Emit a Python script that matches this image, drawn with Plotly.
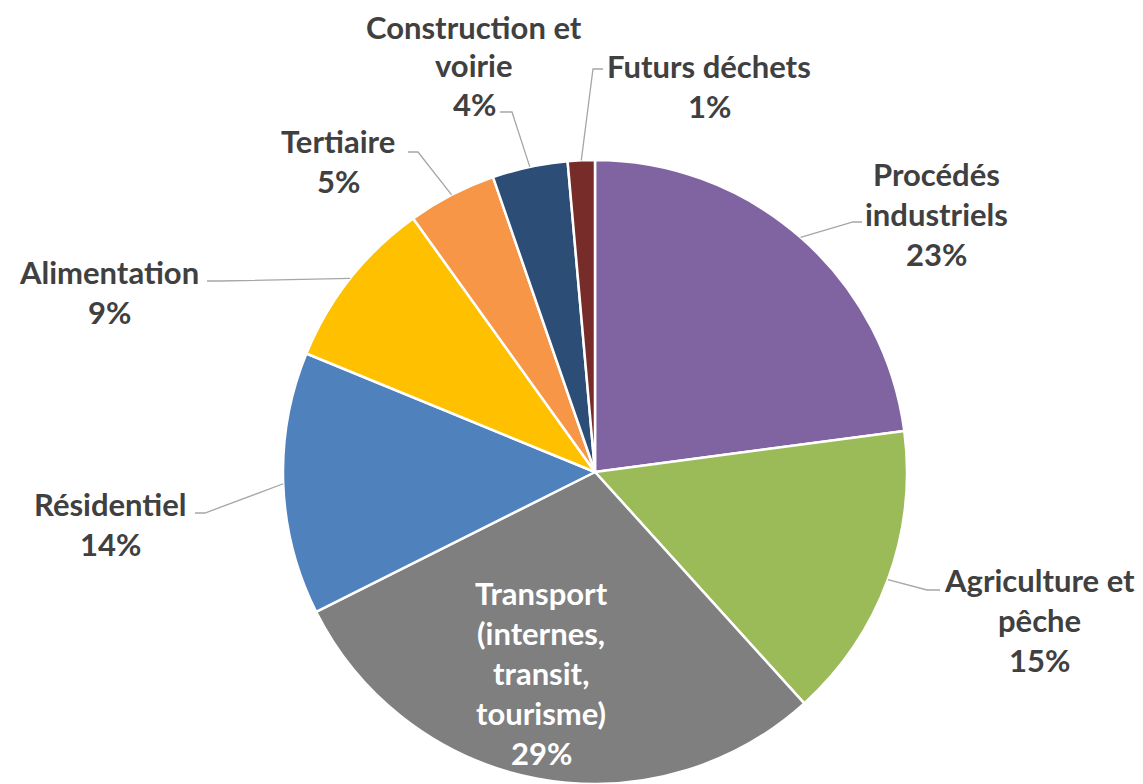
import math
import plotly.graph_objects as go

# ---------------- data ----------------
categories = ["Procédés industriels", "Agriculture et pêche",
              "Transport (internes, transit, tourisme)", "Résidentiel",
              "Alimentation", "Tertiaire", "Construction et voirie", "Futurs déchets"]
label_lines = ["Procédés<br>industriels", "Agriculture et<br>pêche",
               "Transport<br>(internes,<br>transit,<br>tourisme)", "Résidentiel",
               "Alimentation", "Tertiaire", "Construction et<br>voirie", "Futurs déchets"]
values = [22.9, 15.4, 29.3, 13.6, 8.9, 4.6, 3.9, 1.4]
colors = ["#8064A2", "#9BBB59", "#7F7F7F", "#4F81BD",
          "#FFC000", "#F79646", "#2C4D75", "#772C2A"]

# ---------------- layout constants ----------------
W, H = 1143, 784
OFF = 8                             # page body margin
CX, CY, R = 595, 472, 312           # pie centre / radius in page pixels
FONT = "Lato"
FS = 31
LINE_GAP = 40
TXT = "#404040"
LEADER = "#A6A6A6"

# first-line centre of each label block (page pixels)
label_pos = [(936, 174), (1039, 580), (541, 593), (110, 504),
             (109, 272), (338, 141), (474, 27), (709, 66)]
line_gaps = [LINE_GAP, LINE_GAP, LINE_GAP, LINE_GAP,
             LINE_GAP, LINE_GAP, 38.5, LINE_GAP]
# leader lines: knee point and end point near label (None = no leader)
leader_pts = [((853, 222), (862, 222)), ((927, 590), (940, 590)), None,
              ((205, 513), (195, 513)), ((220, 281), (207, 281)),
              ((418, 152), (408, 152)), ((512, 112), (500, 112)),
              ((593, 69), (603, 69))]


def px(x):
    return (x - OFF) / W


def py(y):
    return 1 - (y - OFF) / H


fig = go.Figure(go.Pie(
    labels=categories, values=values, sort=False, direction="clockwise",
    rotation=0, marker=dict(colors=colors, line=dict(color="white", width=2.5)),
    textinfo="none", hoverinfo="label+percent", showlegend=False,
    domain=dict(x=[px(CX - R), px(CX + R)], y=[py(CY + R), py(CY - R)]),
))

total = sum(values)
annotations = []
shapes = []
cum = 0.0
for i, v in enumerate(values):
    mid = (cum + v / 2) / total * 2 * math.pi
    cum += v
    pct = f"{round(v / total * 100):d}%"
    lines = label_lines[i].split("<br>") + [pct]
    lx, ly = label_pos[i]
    col = "white" if i == 2 else TXT
    for k, t in enumerate(lines):
        annotations.append(dict(
            x=px(lx), y=py(ly + k * line_gaps[i]), xref="paper", yref="paper",
            text=f"<b>{t}</b>", showarrow=False, xanchor="center", yanchor="middle",
            borderpad=0, font=dict(family=FONT, size=FS, color=col)))
    if leader_pts[i] is not None:
        ax = CX + R * math.sin(mid)
        ay = CY - R * math.cos(mid)
        (kx, ky), (ex, ey) = leader_pts[i]
        shapes.append(dict(
            type="path", xref="paper", yref="paper",
            path=f"M {px(ax)},{py(ay)} L {px(kx)},{py(ky)} L {px(ex)},{py(ey)}",
            line=dict(color=LEADER, width=1.3)))

fig.update_layout(
    width=W, height=H, margin=dict(l=0, r=0, t=0, b=0),
    paper_bgcolor="white", plot_bgcolor="white",
    annotations=annotations, shapes=shapes,
)

fig.write_html("out.html", config={"displayModeBar": False})
